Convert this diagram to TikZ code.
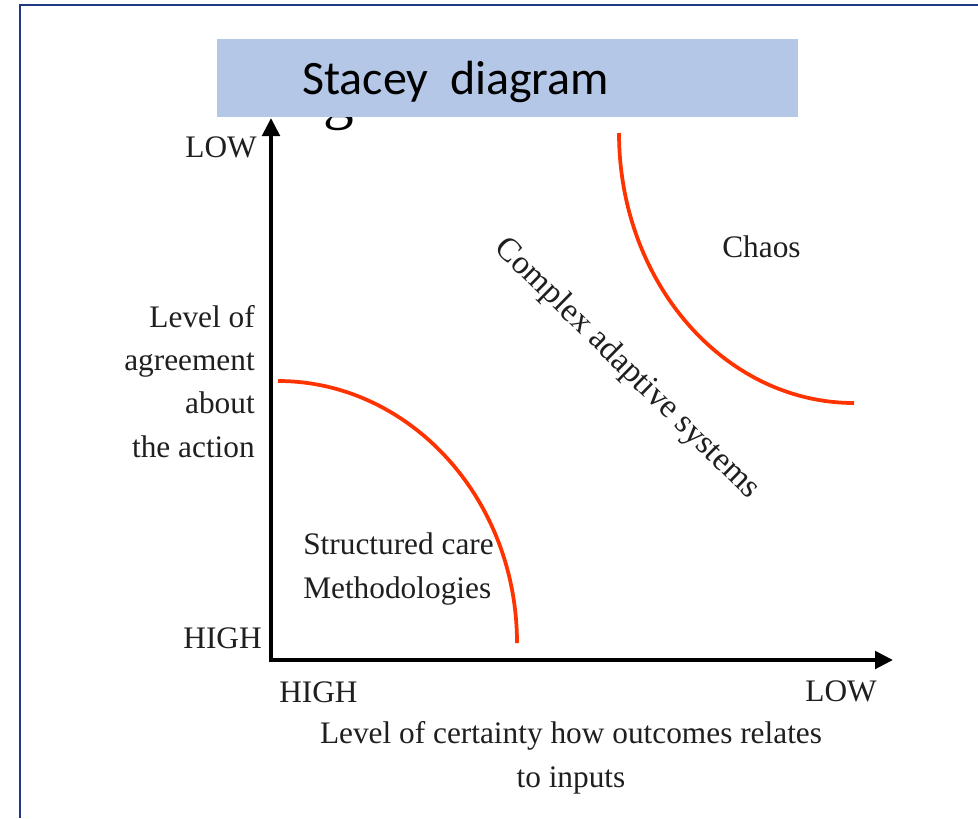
\documentclass[tikz,border=0pt]{standalone}
\usepackage{fontspec}
\setmainfont{Liberation Serif}
\newfontfamily\titlefont{Carlito}
\usepackage{tikz}
\usetikzlibrary{arrows.meta}
\definecolor{framebl}{RGB}{32,56,130}
\definecolor{titlebl}{RGB}{180,199,231}
\definecolor{zonered}{RGB}{255,51,0}

\begin{document}
\begin{tikzpicture}[x=0.75pt,y=-0.75pt,
  lbl/.style={font=\fontsize{23.5}{32.3}\selectfont,text=black!88,inner sep=0pt},
  axis/.style={line width=3pt,{Triangle[length=13.5pt,width=13pt]}-{Triangle[length=13.5pt,width=13pt]}},
  zone/.style={line width=2.8pt,zonered}]
  \useasboundingbox (0,0) rectangle (978,818);
  \draw[framebl,line width=1.6pt] (20,818)--(20,5)--(978,5);
  % glyph left over under the title bar
  \node[font=\fontsize{46}{46}\selectfont,inner sep=0pt,anchor=base] (gg) at (339,117) {g};
  \fill[titlebl] (217,39) rectangle (798,117);
  \node[font=\titlefont\fontsize{36}{40}\selectfont,inner sep=0pt,anchor=base west] (title) at (302,94) {Stacey\ \ diagram};
  % axes
  \coordinate (ytip) at (271,118);
  \coordinate (orig) at (271,660);
  \coordinate (xtip) at (893,660);
  \draw[axis] (ytip)--(orig)--(xtip);
  \node[lbl,anchor=base east] (ylow) at (257,157) {LOW};
  \node[lbl,anchor=base east] (yhigh) at (262,648) {HIGH};
  \node[lbl,anchor=base west] (xhigh) at (279,702) {HIGH};
  \node[lbl,anchor=base east] (xlow) at (877,701) {LOW};
  % base of a multi-line node = its last line
  \node[lbl,align=right,anchor=base east] (ytitle) at (255,457) {Level of\\agreement\\about\\the action};
  \node[lbl,align=center,anchor=base] (xtitle) at (571,787) {Level of certainty how outcomes relates\\to inputs};
  % zones
  \draw[zone] (278,381) .. controls (409,381) and (517,498) .. (517,643);
  \draw[zone] (619,133) .. controls (619,282) and (724,403) .. (854,403);
  \node[lbl,align=left,anchor=base west] (simple) at (303,598) {Structured care\\Methodologies};
  \node[lbl,anchor=base west] (chaos) at (722,257) {Chaos};
  \node[lbl,font=\fontsize{25}{30}\selectfont,rotate=-44.5] (cas) at (627,369) {Complex adaptive systems};
\end{tikzpicture}
\end{document}
